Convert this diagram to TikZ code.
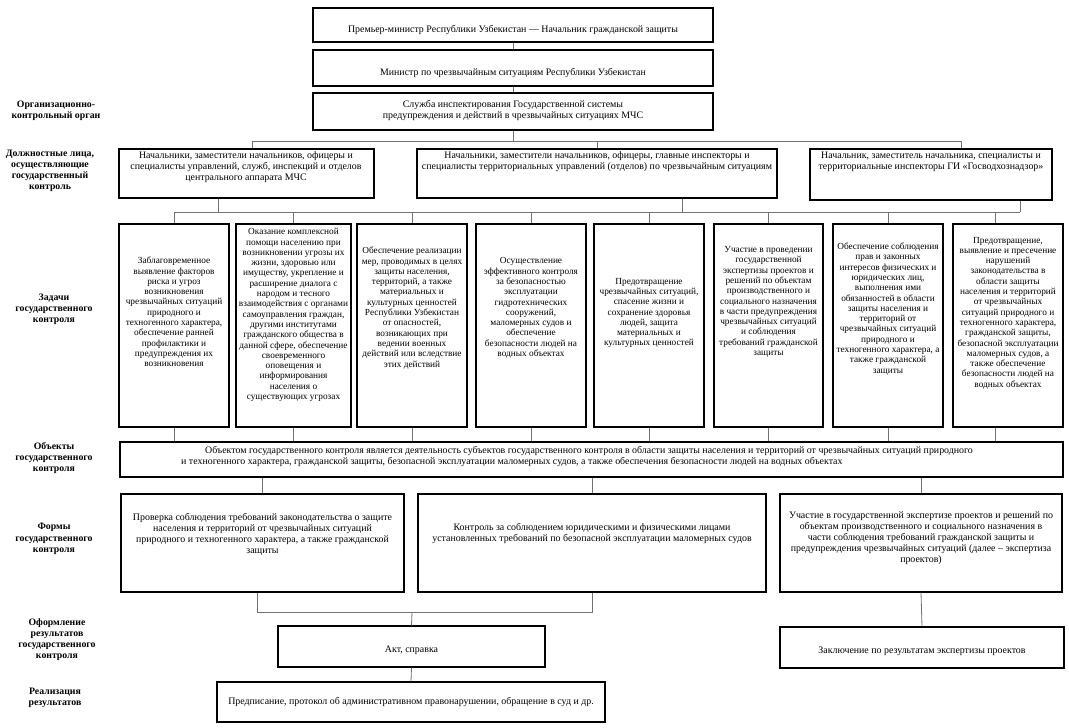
\documentclass[tikz,border=0pt]{standalone}
\usepackage{fontspec}
\setmainfont{Liberation Serif}
\tikzset{
  box/.style={draw=black, line width=1.2pt, inner sep=0pt},
  txt/.style={align=center, font=\fontsize{9.9}{11}\selectfont, inner sep=0pt},
  ttxt/.style={align=center, font=\fontsize{9.3}{10.3}\selectfont, inner sep=0pt},
  lbl/.style={align=center, font=\fontsize{9.8}{11.2}\selectfont\bfseries, inner sep=0pt},
  conn/.style={draw=black!55, line width=0.8pt},
}
\newcommand\bx[5]{\node[box, minimum width={#4-#2}, minimum height={#5-#3}] (#1) at ({(#2+#4)/2},{(#3+#5)/2}) {};}
\begin{document}
\begin{tikzpicture}[x=1pt,y=-1pt]
\useasboundingbox[fill=white] (0,0) rectangle (1069,728);
% top chain
\bx{pm}{313}{8}{713}{42}
\bx{min}{313}{50}{713}{86}
\bx{svc}{313}{93}{713}{130}
\node[txt] (pmt) at (513,30) {Премьер-министр Республики Узбекистан — Начальник гражданской защиты};
\node[txt] (mint) at (513,73) {Министр по чрезвычайным ситуациям Республики Узбекистан};
\node[txt] (svct) at (513,110.5) {Служба инспектирования Государственной системы\\предупреждения и действий в чрезвычайных ситуациях МЧС};
% officials
\bx{A}{119}{149}{374}{198}
\bx{B}{417}{149}{777}{198}
\bx{C}{810}{149}{1052}{200}
\node[txt] (At) at (246,167.5) {Начальники, заместители начальников, офицеры и\\специалисты управлений, служб, инспекций и отделов\\центрального аппарата МЧС};
\node[txt] (Bt) at (597,162) {Начальники, заместители начальников, офицеры, главные инспекторы и\\специалисты территориальных управлений (отделов) по чрезвычайным ситуациям};
\node[txt] (Ct) at (931,161.5) {Начальник, заместитель начальника, специалисты и\\территориальные инспекторы ГИ «Госводхознадзор»};
% tasks
\bx{t1}{119}{224}{229}{427}
\bx{t2}{236}{224}{351}{427}
\bx{t3}{357}{224}{467}{427}
\bx{t4}{476}{224}{586}{427}
\bx{t5}{594}{224}{704}{427}
\bx{t6}{714}{224}{823}{427}
\bx{t7}{833}{224}{943}{427}
\bx{t8}{953}{224}{1063}{427}
\node[ttxt] (t1t) at (174,312) {Заблаговременное\\выявление факторов\\риска и угроз\\возникновения\\чрезвычайных ситуаций\\природного и\\техногенного характера,\\обеспечение ранней\\профилактики и\\предупреждения их\\возникновения};
\node[ttxt] (t2t) at (293.5,315) {Оказание комплексной\\помощи населению при\\возникновении угрозы их\\жизни, здоровью или\\имуществу, укрепление и\\расширение диалога с\\народом и тесного\\взаимодействия с органами\\самоуправления граждан,\\другими институтами\\гражданского общества в\\данной сфере, обеспечение\\своевременного\\оповещения и\\информирования\\населения о\\существующих угрозах};
\node[ttxt] (t3t) at (412,308) {Обеспечение реализации\\мер, проводимых в целях\\защиты населения,\\территорий, а также\\материальных и\\культурных ценностей\\Республики Узбекистан\\от опасностей,\\возникающих при\\ведении военных\\действий или вследствие\\этих действий};
\node[ttxt] (t4t) at (531,308) {Осуществление\\эффективного контроля\\за безопасностью\\эксплуатации\\гидротехнических\\сооружений,\\маломерных судов и\\обеспечение\\безопасности людей на\\водных объектах};
\node[ttxt] (t5t) at (649,313) {Предотвращение\\чрезвычайных ситуаций,\\спасение жизни и\\сохранение здоровья\\людей, защита\\материальных и\\культурных ценностей};
\node[ttxt] (t6t) at (768.5,302) {Участие в проведении\\государственной\\экспертизы проектов и\\решений по объектам\\производственного и\\социального назначения\\в части предупреждения\\чрезвычайных ситуаций\\и соблюдения\\требований гражданской\\защиты};
\node[ttxt] (t7t) at (888,309) {Обеспечение соблюдения\\прав и законных\\интересов физических и\\юридических лиц,\\выполнения ими\\обязанностей в области\\защиты населения и\\территорий от\\чрезвычайных ситуаций\\природного и\\техногенного характера, а\\также гражданской\\защиты};
\node[ttxt] (t8t) at (1008,313) {Предотвращение,\\выявление и пресечение\\нарушений\\законодательства в\\области защиты\\населения и территорий\\от чрезвычайных\\ситуаций природного и\\техногенного характера,\\гражданской защиты,\\безопасной эксплуатации\\маломерных судов, а\\также обеспечение\\безопасности людей на\\водных объектах};
% objects
\bx{obj}{120}{442}{1063}{477}
\node[txt, align=left, anchor=west] (objt) at (181,457) {\hspace*{24pt}Объектом государственного контроля является деятельность субъектов государственного контроля в области защиты населения и территорий от чрезвычайных ситуаций природного\\и техногенного характера, гражданской защиты, безопасной эксплуатации маломерных судов, а также обеспечения безопасности людей на водных объектах};
% forms
\bx{F1}{121}{494}{404}{592}
\bx{F2}{418}{494}{766}{592}
\bx{F3}{780}{494}{1062}{592}
\node[txt] (F1t) at (262.5,534) {Проверка соблюдения требований законодательства о защите\\населения и территорий от чрезвычайных ситуаций\\природного и техногенного характера, а также гражданской\\защиты};
\node[txt] (F2t) at (592,534) {Контроль за соблюдением юридическими и физическими лицами\\установленных требований по безопасной эксплуатации маломерных судов};
\node[txt] (F3t) at (921,538) {Участие в государственной экспертизе проектов и решений по\\объектам производственного и социального назначения в\\части соблюдения требований гражданской защиты и\\предупреждения чрезвычайных ситуаций (далее – экспертиза\\проектов)};
% results
\bx{akt}{278}{626}{545}{667}
\bx{concl}{780}{627}{1064}{668}
\bx{real}{217}{682}{605}{722}
\node[txt] (aktt) at (411.5,650) {Акт, справка};
\node[txt] (conclt) at (922,651) {Заключение по результатам экспертизы проектов};
\node[txt] (realt) at (411,702) {Предписание, протокол об административном правонарушении, обращение в суд и др.};
% left labels
\node[lbl] (L1) at (56,111) {Организационно-\\контрольный орган};
\node[lbl] (L2) at (50,171) {Должностные лица,\\осуществляющие\\государственный\\контроль};
\node[lbl] (L3) at (54,309.5) {Задачи\\государственного\\контроля};
\node[lbl] (L4) at (54,458) {Объекты\\государственного\\контроля};
\node[lbl] (L5) at (54,539) {Формы\\государственного\\контроля};
\node[lbl] (L6) at (57,639.5) {Оформление\\результатов\\государственного\\контроля};
\node[lbl] (L7) at (55,697.5) {Реализация\\результатов};
% connectors top
\draw[conn] (pm.south) -- (min.north);
\draw[conn] (min.south) -- (svc.north);
\coordinate (b1) at (513,141);
\coordinate (b1a) at (252,141);
\coordinate (b1c) at (961,141);
\draw[conn] (svc.south) -- (b1);
\draw[conn] (b1a) -- (b1c);
\draw[conn] (b1a) -- (b1a |- A.north);
\draw[conn] (b1 -| B.north) -- (B.north);
\draw[conn] (b1c) -- (b1c |- C.north);
% task bus
\coordinate (b2l) at (174,212);
\coordinate (b2r) at (1020,212);
\draw[conn] (b2l) -- (b2r);
\draw[conn] ([xshift=-28.5]A.south) -- ([xshift=-28.5]A.south |- b2l);
\draw[conn] ([xshift=85]B.south) -- ([xshift=85]B.south |- b2l);
\draw[conn] ([xshift=89]C.south) -- (b2r);
\foreach \t in {t1,t2,t3,t4,t5,t6,t7}{
  \draw[conn] (\t.north |- b2l) -- (\t.north);
  \draw[conn] (\t.south) -- (\t.south |- obj.north);
}
\draw[conn] ([xshift=-13]t8.north |- b2l) -- ([xshift=-13]t8.north);
\draw[conn] ([xshift=-13]t8.south) -- ([xshift=-13]t8.south |- obj.north);
% objects to forms
\draw[conn] (F1.north |- obj.south) -- (F1.north);
\draw[conn] (F2.north |- obj.south) -- (F2.north);
\draw[conn] (F3.north |- obj.south) -- (F3.north);
% forms to results
\coordinate (b3) at (412,612);
\draw[conn] ([xshift=-5]F1.south) -- ([xshift=-5]F1.south |- b3) -- (F2.south |- b3) -- (F2.south);
\draw[conn] (b3) -- (akt.north);
\draw[conn] (akt.south) -- (real.north);
\draw[conn] (F3.south) -- (concl.north);
\end{tikzpicture}
\end{document}
